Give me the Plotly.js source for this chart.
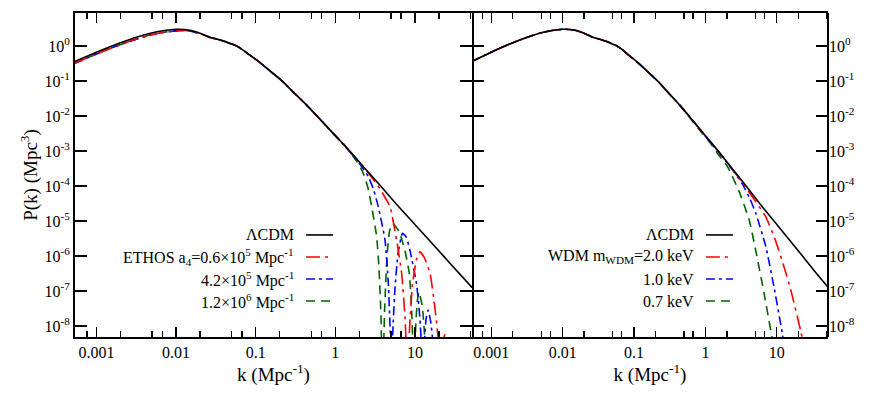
<!DOCTYPE html>
<html>
<head>
<meta charset="utf-8">
<script src="https://cdn.plot.ly/plotly-3.0.1.min.js"></script>
<style>
  html, body { margin: 0; padding: 0; background: #fff; }
  #plotArea { width: 885px; height: 395px; }
</style>
</head>
<body>
<div id="plotArea"></div>
<script>
// values, stored as log10(k) and log10(P)
// LCDM, same curve in both panels
var lcdmLogK = [-3.28, -3.0, -2.84, -2.6, -2.325, -2.15, -2.0, -1.9, -1.81, -1.7, -1.58, -1.48, -1.39, -1.32, -1.24, -1.17, -1.1, -1.02, -0.9, -0.78, -0.67, -0.5, -0.36, -0.23, -0.03, 0.18, 0.37, 0.57, 0.76, 0.96, 1.16, 1.36, 1.55, 1.72];
var lcdmLogP = [-0.45, -0.18, -0.03, 0.17, 0.36, 0.44, 0.475, 0.47, 0.44, 0.36, 0.25, 0.19, 0.13, 0.07, 0.0, -0.1, -0.22, -0.35, -0.56, -0.79, -1.0, -1.38, -1.69, -2.0, -2.49, -3.0, -3.49, -4.0, -4.5, -5.0, -5.5, -6.0, -6.48, -6.9];

// ETHOS: common large-scale part (a little under LCDM at low k)
var ethosBaseLogK = [-3.28, -3.0, -2.84, -2.6, -2.325, -2.15, -2.0, -1.9, -1.81, -1.7, -1.58, -1.48, -1.39, -1.32, -1.24, -1.17, -1.1, -1.02, -0.9, -0.78, -0.67, -0.5, -0.36, -0.23, -0.03];
var ethosBaseLogP = [-0.5, -0.23, -0.08, 0.12, 0.31, 0.39, 0.43, 0.44, 0.42, 0.35, 0.25, 0.19, 0.13, 0.07, 0.0, -0.1, -0.22, -0.35, -0.56, -0.79, -1.0, -1.38, -1.69, -2.0, -2.49];
// ETHOS small-scale tails (-10 = zero of the oscillation, off the axis)
var ethos06LogK = [0.18, 0.37, 0.48, 0.561, 0.687, 0.77, 0.833, 0.875, 0.895, 0.91, 0.93, 0.97, 1.02, 1.063, 1.12, 1.19, 1.25, 1.29, 1.305, 1.32, 1.35, 1.38, 1.41, 1.43];
var ethos06LogP = [-3.0, -3.5, -3.82, -4.08, -4.59, -5.54, -6.49, -7.73, -8.8, -10, -8.2, -6.8, -6.1, -5.88, -6.05, -6.49, -7.45, -8.3, -9.0, -10, -8.5, -8.22, -8.5, -10];
var ethos42LogK = [0.18, 0.31, 0.415, 0.48, 0.54, 0.624, 0.666, 0.69, 0.705, 0.72, 0.75, 0.79, 0.845, 0.89, 0.937, 1.02, 1.06, 1.085, 1.1, 1.12, 1.14, 1.166, 1.2, 1.23, 1.25];
var ethos42LogP = [-3.02, -3.38, -3.73, -4.1, -4.59, -5.54, -6.78, -8.2, -10, -8.3, -6.9, -5.9, -5.35, -5.45, -5.83, -6.78, -7.7, -8.7, -10, -8.5, -7.8, -7.54, -7.9, -8.6, -10];
var ethos12LogK = [0.1, 0.2, 0.28, 0.352, 0.41, 0.457, 0.52, 0.55, 0.575, 0.59, 0.62, 0.65, 0.68, 0.72, 0.8, 0.87, 0.93, 0.96, 0.975, 0.99, 1.01, 1.03, 1.05, 1.09, 1.12, 1.14];
var ethos12LogP = [-2.78, -3.08, -3.33, -3.64, -4.05, -4.59, -5.45, -6.4, -7.8, -10, -7.5, -6.0, -5.3, -5.07, -5.3, -5.8, -6.5, -7.6, -8.6, -10, -8.0, -7.3, -7.02, -7.4, -8.2, -10];

// WDM tails, they follow LCDM up to k ~ 0.6
var wdm20LogK = [-0.03, 0.18, 0.3, 0.5, 0.706, 0.846, 0.986, 1.1, 1.2, 1.336, 1.37];
var wdm20LogP = [-2.49, -3.01, -3.32, -3.85, -4.45, -4.88, -5.58, -6.3, -7.0, -8.15, -8.5];
var wdm10LogK = [-0.03, 0.18, 0.287, 0.4, 0.52, 0.62, 0.706, 0.846, 0.96, 1.08, 1.1];
var wdm10LogP = [-2.5, -3.03, -3.3, -3.6, -3.95, -4.35, -4.78, -5.73, -6.88, -8.25, -8.6];
var wdm07LogK = [-0.1, 0.05, 0.18, 0.31, 0.473, 0.613, 0.706, 0.822, 0.93, 0.96];
var wdm07LogP = [-2.36, -2.72, -3.1, -3.45, -4.16, -4.97, -5.85, -7.07, -8.3, -8.7];

var kTicks = [0.001, 0.01, 0.1, 1, 10];
var kTickText = ["0.001", "0.01", "0.1", "1", "10"];
var kMinor = [0.00076, 0.002, 0.005, 0.0067, 0.02, 0.05, 0.067, 0.2, 0.5, 0.67, 2, 5, 6.7, 20, 50];
var pTicks = [1e-8, 1e-7, 1e-6, 1e-5, 1e-4, 1e-3, 1e-2, 1e-1, 1];
var pTickText = ["10<sup>-8</sup>", "10<sup>-7</sup>", "10<sup>-6</sup>", "10<sup>-5</sup>", "10<sup>-4</sup>",
                 "10<sup>-3</sup>", "10<sup>-2</sup>", "10<sup>-1</sup>", "10<sup>0</sup>"];

var ethosLabels = ["\u039BCDM", "ETHOS a<sub>4</sub>=0.6\u00D710<sup>5</sup> Mpc<sup>-1</sup>",
                   "4.2\u00D710<sup>5</sup> Mpc<sup>-1</sup>", "1.2\u00D710<sup>6</sup> Mpc<sup>-1</sup>"];
var wdmLabels = ["\u039BCDM", "WDM m<sub>WDM</sub>=2.0 keV", "1.0 keV", "0.7 keV"];

var pw = function (a) { return a.map(function (v) { return Math.pow(10, v); }); };

var black = "#000000", red = "#ff0000", blue = "#0000ff", green = "#006400";
var dashes = ["solid", "14px,5px,3px,5px", "9px,4px,3px,4px", "9px,6px"];
var colors = [black, red, blue, green];

function curve(lk, lp, i, xa, ya) {
  return {
    x: pw(lk), y: pw(lp), xaxis: xa, yaxis: ya,
    type: "scatter", mode: "lines", hoverinfo: "skip",
    line: {color: colors[i], width: 1.6, dash: dashes[i], shape: "spline", smoothing: 0.5}
  };
}

var wdmBaseK = lcdmLogK.slice(0, 23);
var wdmBaseP = lcdmLogP.slice(0, 23);

var data = [
  curve(ethosBaseLogK.concat(ethos12LogK), ethosBaseLogP.concat(ethos12LogP), 3, "x", "y"),
  curve(ethosBaseLogK.concat(ethos42LogK), ethosBaseLogP.concat(ethos42LogP), 2, "x", "y"),
  curve(ethosBaseLogK.concat(ethos06LogK), ethosBaseLogP.concat(ethos06LogP), 1, "x", "y"),
  curve(lcdmLogK, lcdmLogP, 0, "x", "y"),
  curve(wdmBaseK.concat(wdm07LogK), wdmBaseP.concat(wdm07LogP), 3, "x2", "y2"),
  curve(wdmBaseK.concat(wdm10LogK), wdmBaseP.concat(wdm10LogP), 2, "x2", "y2"),
  curve(wdmBaseK.concat(wdm20LogK), wdmBaseP.concat(wdm20LogP), 1, "x2", "y2"),
  curve(lcdmLogK, lcdmLogP, 0, "x2", "y2")
];

var split = 0.5272;

function xAxis(dom, anchor) {
  return {
    type: "log", domain: dom, anchor: anchor, range: [-3.27, 1.717],
    tickmode: "array", tickvals: kTicks, ticktext: kTickText,
    ticks: "inside", ticklen: 10, tickwidth: 1.3, tickcolor: "#000",
    minor: {tickmode: "array", tickvals: kMinor, ticks: "inside", ticklen: 6, tickwidth: 1.3, tickcolor: "#000"},
    showline: true, linewidth: 2, linecolor: "#000", mirror: "ticks",
    showgrid: false, zeroline: false, automargin: false,
    title: {text: "k (Mpc<sup>-1</sup>)", standoff: 6}
  };
}
function yAxis(anchor, side) {
  return {
    type: "log", anchor: anchor, side: side, range: [-8.31, 0.94],
    tickmode: "array", tickvals: pTicks, ticktext: pTickText,
    ticks: "inside", ticklen: 12, tickwidth: 1.3, tickcolor: "#000",
    showline: side === "left", linewidth: 2, linecolor: "#000", mirror: "ticks",
    showgrid: false, zeroline: false, automargin: false,
    title: {text: side === "left" ? "P(k) (Mpc<sup>3</sup>)" : "", standoff: 2}
  };
}

// hand-made legends: text on the left, line sample on the right
var rowsY = [0.315, 0.247, 0.179, 0.111];
var annotations = [], shapes = [];
function legend(labels, xa, ya, textX, lineX0, lineX1) {
  labels.forEach(function (t, i) {
    annotations.push({xref: xa + " domain", yref: ya + " domain", x: textX, y: rowsY[i],
      xanchor: "right", yanchor: "middle", text: t, showarrow: false});
    shapes.push({type: "line", xref: xa + " domain", yref: ya + " domain",
      x0: lineX0, x1: lineX1, y0: rowsY[i], y1: rowsY[i],
      line: {color: colors[i], width: 1.6, dash: dashes[i]}});
  });
}
legend(ethosLabels, "x", "y", 0.557, 0.582, 0.65);
legend(wdmLabels, "x2", "y2", 0.629, 0.657, 0.733);

// right frame edge of the right panel (y2 line is off so the middle border is not doubled)
shapes.push({type: "line", xref: "x2 domain", yref: "y2 domain", x0: 1, x1: 1, y0: 0, y1: 1,
  line: {color: "#000", width: 2}});

var layout = {
  width: 885, height: 395,
  margin: {l: 75, r: 57, t: 13, b: 58},
  paper_bgcolor: "#fff", plot_bgcolor: "#fff",
  font: {family: "'Liberation Serif', 'DejaVu Serif', serif", size: 16, color: "#000"},
  showlegend: false,
  xaxis: xAxis([0, split], "y"),
  yaxis: yAxis("x", "left"),
  xaxis2: xAxis([split, 1], "y2"),
  yaxis2: yAxis("x2", "right"),
  annotations: annotations,
  shapes: shapes
};

Plotly.newPlot("plotArea", data, layout, {displayModeBar: false, staticPlot: true});
</script>
</body>
</html>
